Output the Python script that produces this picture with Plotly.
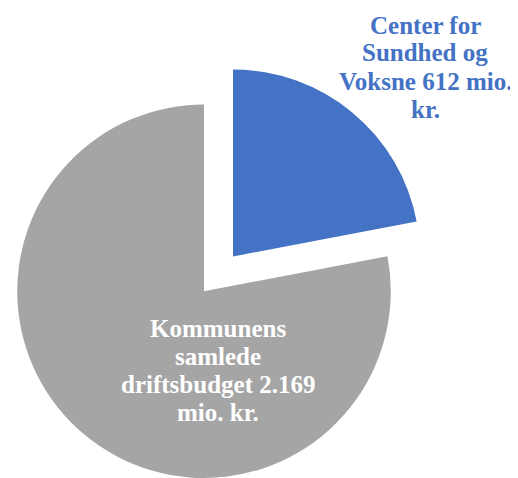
import plotly.graph_objects as go

# ---- data ----
categories = ["Center for Sundhed og Voksne", "Kommunens samlede driftsbudget"]
values = [612, 2169]  # mio. kr.
colors = ["#4472C4", "#A5A5A5"]


def dk(v):
    return f"{v:,}".replace(",", ".")


# wrapped label lines (as in the reference)
label_lines = [
    ["Center for", "Sundhed og", f"Voksne {dk(values[0])} mio.", "kr."],
    ["Kommunens", "samlede", f"driftsbudget {dk(values[1])}", "mio. kr."],
]

# ---- layout constants ----
# the page body has a default 8px margin, so the figure is 8px smaller
# and screen coordinates are shifted by 8px
OFF = 8
W, H = 518 - OFF, 478 - OFF
R = 187            # pie radius in px
GRAY_C = (204 - OFF, 291.5 - OFF)
PULL_OFFSET = (29, -35)  # explode offset of first slice in px
BLUE_C = (GRAY_C[0] + PULL_OFFSET[0], GRAY_C[1] + PULL_OFFSET[1])


def domain_for(cx, cy, r):
    x0, x1 = (cx - r) / W, (cx + r) / W
    y0, y1 = 1 - (cy + r) / H, 1 - (cy - r) / H
    clamp = lambda v: max(0.0, min(1.0, v))
    return dict(x=[clamp(x0), clamp(x1)], y=[clamp(y0), clamp(y1)])


TRANSP = "rgba(0,0,0,0)"

fig = go.Figure()
# remaining budget slice (grey)
fig.add_trace(go.Pie(
    labels=categories, values=values,
    marker=dict(colors=[TRANSP, colors[1]], line=dict(width=0)),
    domain=domain_for(GRAY_C[0], GRAY_C[1], R),
    sort=False, direction="clockwise", rotation=0,
    textinfo="none", hoverinfo="label+value", showlegend=False,
))
# exploded slice (blue)
fig.add_trace(go.Pie(
    labels=categories, values=values,
    marker=dict(colors=[colors[0], TRANSP], line=dict(width=0)),
    domain=domain_for(BLUE_C[0], BLUE_C[1], R),
    sort=False, direction="clockwise", rotation=0,
    textinfo="none", hoverinfo="label+value", showlegend=False,
))

FONT = "Liberation Serif, Times New Roman, serif"
label_pos = [(425, [25, 53, 81, 109], colors[0]), (218, [328, 356, 384, 412], "white")]
for lines, (x, ys, col) in zip(label_lines, label_pos):
    for txt, y in zip(lines, ys):
        fig.add_annotation(
            x=(x - OFF) / W, y=1 - (y - OFF) / H, xref="paper", yref="paper",
            text=f"<b>{txt}</b>", showarrow=False,
            xanchor="center", yanchor="middle",
            font=dict(family=FONT, size=25, color=col),
        )

fig.update_layout(
    width=W, height=H,
    margin=dict(l=0, r=0, t=0, b=0),
    paper_bgcolor="white", plot_bgcolor="white",
)

fig.write_html("out.html")
